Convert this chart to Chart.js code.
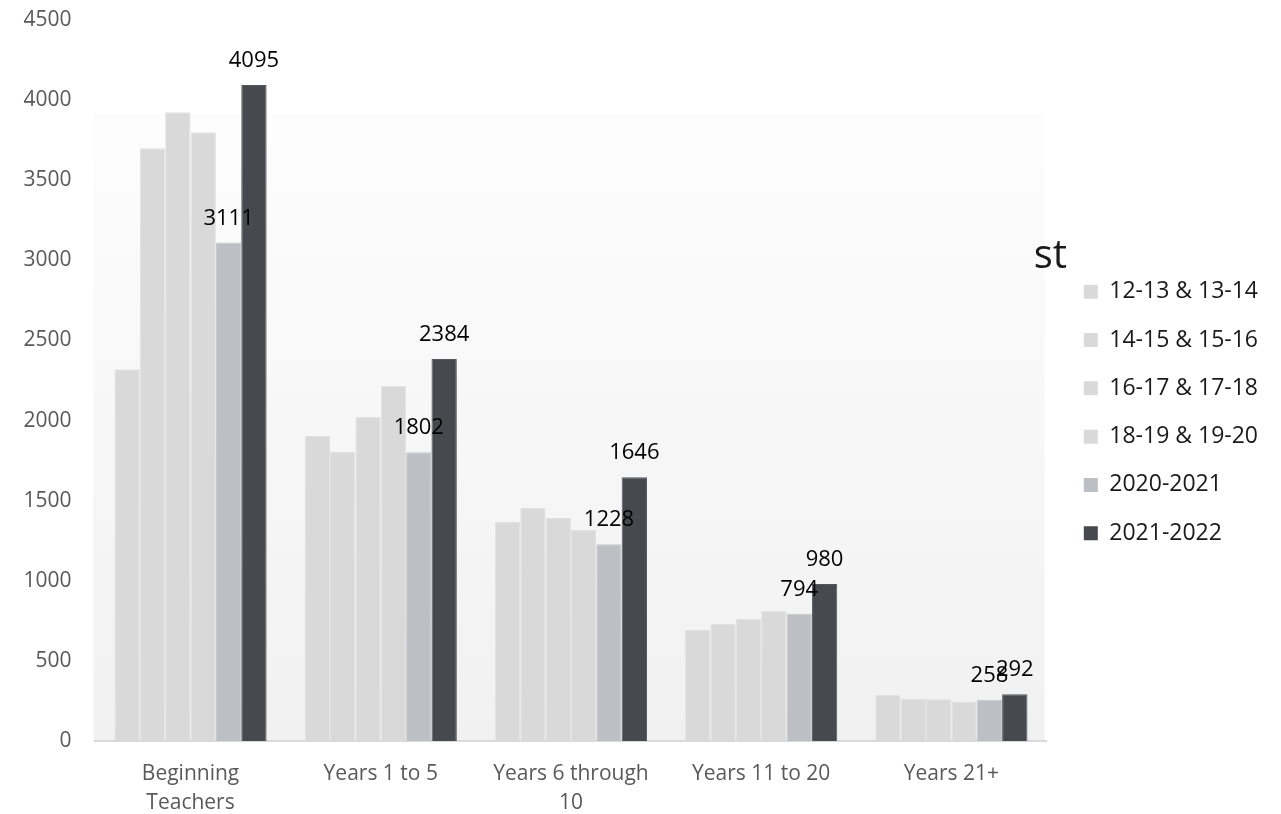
<!DOCTYPE html>
<html><head><meta charset="utf-8">
<script src="https://cdn.jsdelivr.net/npm/chart.js@4.4.0/dist/chart.umd.min.js"></script>
<style>html,body{margin:0;padding:0;background:#fff;overflow:hidden}canvas{display:block}</style>
</head><body>
<canvas id="c" width="1281" height="814"></canvas>
<script>
// ---- data ----
const categories = [["Beginning", "Teachers"], "Years 1 to 5", ["Years 6 through", "10"], "Years 11 to 20", "Years 21+"];
const seriesNames = ["12-13 & 13-14", "14-15 & 15-16", "16-17 & 17-18", "18-19 & 19-20", "2020-2021", "2021-2022"];
const s1213 = [2320, 1904, 1367, 693, 287];
const s1415 = [3700, 1804, 1454, 730, 262];
const s1617 = [3925, 2022, 1392, 761, 260];
const s1819 = [3800, 2216, 1317, 811, 243];
const s2021 = [3111, 1802, 1228, 794, 258];
const s2122 = [4095, 2384, 1646, 980, 292];
const yTickValues = [0, 500, 1000, 1500, 2000, 2500, 3000, 3500, 4000, 4500];
const titleFragment = "st";

// ---- styles ----
const fills = ["#d9d9d9", "#d9d9d9", "#d9d9d9", "#d9d9d9", "#bcc0c4", "#464a4e"];
const edges = ["#e2e2e2", "#e2e2e2", "#e2e2e2", "#e2e2e2", "#c4c7ca", "#54585c"];
const labelled = [false, false, false, false, true, true];
const seriesData = [s1213, s1415, s1617, s1819, s2021, s2122];

const plotBackground = {
  id: 'plotBackground',
  beforeDraw(chart) {
    const {ctx, chartArea: a} = chart;
    ctx.save();
    ctx.fillStyle = '#ffffff';
    ctx.fillRect(0, 0, chart.width, chart.height);
    const top = a.top + 93;
    const g = ctx.createLinearGradient(0, top, 0, a.bottom);
    g.addColorStop(0, '#fdfdfd');
    g.addColorStop(1, '#f1f1f1');
    ctx.fillStyle = g;
    ctx.fillRect(a.left - 2, top, a.right - a.left, a.bottom - top);
    ctx.restore();
  }
};

const valueLabels = {
  id: 'valueLabels',
  afterDatasetsDraw(chart) {
    const ctx = chart.ctx;
    ctx.save();
    ctx.font = '22px "Open Sans"';
    ctx.fillStyle = '#000000';
    ctx.textAlign = 'center';
    ctx.textBaseline = 'alphabetic';
    chart.data.datasets.forEach((ds, i) => {
      if (!labelled[i]) return;
      chart.getDatasetMeta(i).data.forEach((bar, j) => {
        ctx.fillText(String(ds.data[j]), bar.x, bar.y - 18);
      });
    });
    ctx.restore();
  }
};

const titleBit = {
  id: 'titleBit',
  afterDraw(chart) {
    const hb = chart.legend && chart.legend.legendHitBoxes && chart.legend.legendHitBoxes[0];
    if (!hb) return;
    const ctx = chart.ctx;
    ctx.save();
    ctx.font = '40px "Open Sans"';
    ctx.fillStyle = '#1a1a1a';
    ctx.textAlign = 'left';
    ctx.textBaseline = 'alphabetic';
    ctx.fillText(titleFragment, hb.left - 50, hb.top - 12);
    ctx.restore();
  }
};

new Chart(document.getElementById('c'), {
  type: 'bar',
  data: {
    labels: categories,
    datasets: seriesNames.map((name, i) => ({
      label: name,
      data: seriesData[i],
      backgroundColor: fills[i],
      borderColor: edges[i],
      borderWidth: 1,
      barPercentage: 1,
      categoryPercentage: 0.8
    }))
  },
  options: {
    responsive: false,
    animation: false,
    devicePixelRatio: 1,
    layout: {padding: {top: 11, left: 16, right: 14, bottom: 0}},
    plugins: {
      tooltip: {enabled: false},
      legend: {
        position: 'right',
        labels: {
          boxWidth: 14,
          boxHeight: 14,
          padding: 25.3,
          color: '#1a1a1a',
          font: {family: '"Open Sans"', size: 23},
          generateLabels(chart) {
            return Chart.defaults.plugins.legend.labels.generateLabels(chart).map(l => ({...l, lineWidth: 0, strokeStyle: 'rgba(0,0,0,0)'}));
          }
        }
      }
    },
    scales: {
      x: {
        grid: {display: false, drawTicks: false},
        border: {display: true, color: '#d9d9d9', width: 2},
        ticks: {color: '#595959', padding: 19, maxRotation: 0, autoSkip: false,
          font: {family: '"Open Sans"', size: 21, lineHeight: 1.38}},
        afterFit(s) { s.height = 73; }
      },
      y: {
        min: 0, max: 4500,
        grid: {display: false, drawTicks: true, tickLength: 16.6, color: 'rgba(0,0,0,0)'},
        border: {display: false},
        afterBuildTicks(s) { s.ticks = yTickValues.map(v => ({value: v})); },
        ticks: {color: '#595959', padding: 7.4, font: {family: '"Open Sans"', size: 21},
          callback: v => String(v)}
      },
      gap: {
        type: 'linear', position: 'right', display: true,
        grid: {display: false, drawTicks: false}, border: {display: false}, ticks: {display: false},
        afterFit(s) { s.width = 12; }
      }
    }
  },
  plugins: [plotBackground, valueLabels, titleBit]
});
</script>
</body></html>
